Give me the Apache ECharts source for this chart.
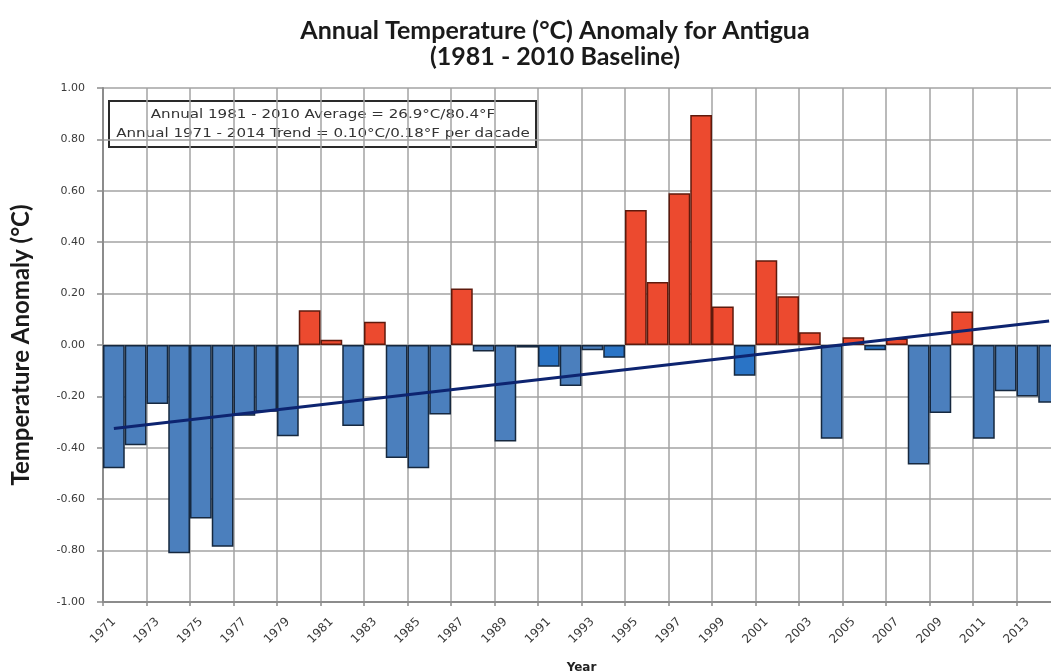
<!DOCTYPE html>
<html lang="en">

<head>
    <meta charset="UTF-8">
    <title>Antigua Temperature Anomaly</title>
    <script src="https://cdn.jsdelivr.net/npm/echarts@6/dist/echarts.min.js"></script>
    <style>
        html, body { margin: 0; padding: 0; background: #fff; overflow: hidden; }
    </style>
</head>

<body>

    <!-- a bit wider than the window: the last bar is cut off at the right edge in the original -->
    <div id="AnomalyChart" style="width: 1070px; height: 671px"></div>

    <script>
        // years shown on the x axis
        var years = ['1971', '1972', '1973', '1974', '1975', '1976', '1977', '1978', '1979', '1980',
            '1981', '1982', '1983', '1984', '1985', '1986', '1987', '1988', '1989', '1990',
            '1991', '1992', '1993', '1994', '1995', '1996', '1997', '1998', '1999', '2000',
            '2001', '2002', '2003', '2004', '2005', '2006', '2007', '2008', '2009', '2010',
            '2011', '2012', '2013', '2014'];

        // annual anomaly (°C)
        var anomaly = [-0.48, -0.39, -0.23, -0.81, -0.675, -0.785, -0.275, -0.26, -0.355, 0.135,
            0.02, -0.315, 0.09, -0.44, -0.48, -0.27, 0.22, -0.025, -0.375, -0.01,
            -0.085, -0.16, -0.02, -0.05, 0.525, 0.245, 0.59, 0.895, 0.15, -0.12,
            0.33, 0.19, 0.05, -0.365, 0.03, -0.02, 0.025, -0.465, -0.265, 0.13,
            -0.365, -0.18, -0.20, -0.225];

        // bars drawn in the brighter blue
        var brightYears = ['1991', '1994', '2000', '2006'];

        // trend line end points (1971 and 2014)
        var trendYears = ['1971', '2014'];
        var trendValues = [-0.325, 0.093];

        var yTicks = [-1, -0.8, -0.6, -0.4, -0.2, 0, 0.2, 0.4, 0.6, 0.8, 1];

        var chart = echarts.init(document.getElementById('AnomalyChart'));

        var barData = [];
        for (var i = 0; i < anomaly.length; i++) {
            var v = anomaly[i];
            var col, border;
            if (v >= 0) {
                col = '#ec4a2f';
                border = '#5e1a0d';
            } else if (brightYears.indexOf(years[i]) >= 0) {
                col = '#2a74c6';
                border = '#16283f';
            } else {
                col = '#4b7fbd';
                border = '#16283f';
            }
            barData.push({
                value: v,
                itemStyle: { color: col, borderColor: border, borderWidth: 1.5 }
            });
        }

        var trendData = years.map(function(y) {
            var k = trendYears.indexOf(y);
            return k >= 0 ? trendValues[k] : '-';
        });

        var boxText = {
            fontFamily: 'DejaVu Sans',
            fontSize: 13,
            fill: '#333',
            align: 'center',
            verticalAlign: 'middle'
        };

        var option = {
            animation: false,
            title: {
                text: 'Annual Temperature (°C) Anomaly for Antigua\n(1981 - 2010 Baseline)',
                left: 550,
                textAlign: 'center',
                top: 13,
                textStyle: {
                    fontFamily: 'Lato',
                    fontWeight: 'bold',
                    fontSize: 25,
                    lineHeight: 26,
                    color: '#1a1a1a'
                }
            },
            grid: {
                left: 103,
                top: 88,
                width: 957,
                bottom: 69,
                outerBoundsMode: 'none'
            },
            xAxis: {
                type: 'category',
                data: years,
                name: 'Year',
                nameLocation: 'middle',
                nameGap: 60,
                nameTextStyle: {
                    fontFamily: 'DejaVu Sans',
                    fontWeight: 'bold',
                    fontSize: 12,
                    color: '#222'
                },
                axisLine: { onZero: false, lineStyle: { color: '#8c8c8c', width: 2 } },
                axisTick: { show: true, interval: 1, length: 4, lineStyle: { color: '#8c8c8c', width: 1.5 } },
                axisLabel: {
                    interval: 1,
                    rotate: 45,
                    margin: 18,
                    fontFamily: 'DejaVu Sans',
                    fontSize: 12,
                    color: '#3a3a3a'
                },
                splitLine: { show: true, interval: 1, lineStyle: { color: '#a3a3a3', width: 1.5 } }
            },
            yAxis: {
                type: 'value',
                min: yTicks[0],
                max: yTicks[yTicks.length - 1],
                interval: 0.2,
                name: 'Temperature Anomaly (°C)',
                nameLocation: 'middle',
                nameGap: 70,
                nameTextStyle: {
                    fontFamily: 'Lato',
                    fontWeight: 'bold',
                    fontSize: 24,
                    color: '#1a1a1a'
                },
                axisLine: { show: true, lineStyle: { color: '#8c8c8c', width: 2 } },
                axisTick: { show: true, inside: false, length: 6, lineStyle: { color: '#8c8c8c', width: 1.5 } },
                axisLabel: {
                    margin: 18,
                    fontFamily: 'DejaVu Sans',
                    fontSize: 11,
                    color: '#3a3a3a',
                    formatter: function(v) { return v.toFixed(2); }
                },
                splitLine: { show: true, lineStyle: { color: '#a3a3a3', width: 1.5 } }
            },
            graphic: [{
                type: 'group',
                left: 108,
                top: 100,
                children: [{
                    type: 'rect',
                    shape: { x: 0, y: 0, width: 427, height: 46 },
                    style: { fill: '#fff', stroke: '#2a2a2a', lineWidth: 2 }
                }, {
                    type: 'text',
                    x: 214,
                    y: 14,
                    scaleX: 1.16,
                    style: Object.assign({ text: 'Annual 1981 - 2010 Average = 26.9°C/80.4°F' }, boxText)
                }, {
                    type: 'text',
                    x: 214,
                    y: 33,
                    scaleX: 1.16,
                    style: Object.assign({ text: 'Annual 1971 - 2014 Trend = 0.10°C/0.18°F per dacade' }, boxText)
                }]
            }],
            series: [{
                type: 'bar',
                data: barData,
                barCategoryGap: 0,
                z: 2
            }, {
                type: 'line',
                data: trendData,
                connectNulls: true,
                symbol: 'none',
                lineStyle: { color: '#0d2470', width: 3 },
                z: 3
            }]
        };

        chart.setOption(option);
    </script>

</body>

</html>
